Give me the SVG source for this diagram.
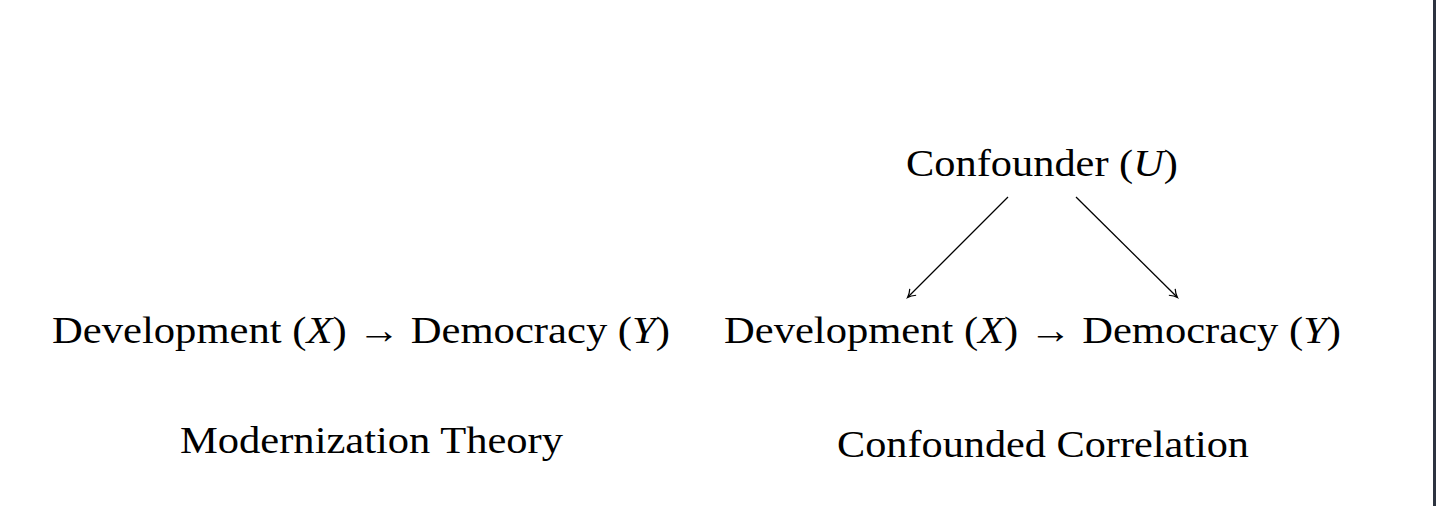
<svg xmlns="http://www.w3.org/2000/svg" width="1436" height="506" viewBox="0 0 1436 506">
<style>
.t{font-family:"Liberation Serif","DejaVu Serif",serif;font-size:38px;fill:#000}
.i{font-style:italic}
.e{stroke:#000;stroke-width:1.3;fill:none}
</style>
<defs>
<marker id="ah" markerWidth="12" markerHeight="12" refX="9" refY="6" orient="auto" markerUnits="userSpaceOnUse">
<path d="M2,1.5 Q6,5 9.5,6 Q6,7 2,10.5" fill="none" stroke="#000" stroke-width="1.2"/>
</marker>
</defs>
<rect width="1436" height="506" fill="#fff"/>
<rect x="1433" y="0" width="3" height="506" fill="#2d3340"/>
<g id="left-chain"><text class="t" x="52" y="343" textLength="618" lengthAdjust="spacingAndGlyphs">Development (<tspan class="i">X</tspan>) → Democracy (<tspan class="i">Y</tspan>)</text></g>
<g id="left-caption"><text class="t" x="180" y="453" textLength="383" lengthAdjust="spacingAndGlyphs">Modernization Theory</text></g>
<g id="confounder"><text class="t" x="906" y="176" textLength="272" lengthAdjust="spacingAndGlyphs">Confounder (<tspan class="i">U</tspan>)</text></g>
<g id="right-chain"><text class="t" x="724" y="343" textLength="617" lengthAdjust="spacingAndGlyphs">Development (<tspan class="i">X</tspan>) → Democracy (<tspan class="i">Y</tspan>)</text></g>
<g id="right-caption"><text class="t" x="837" y="457" textLength="412" lengthAdjust="spacingAndGlyphs">Confounded Correlation</text></g>
<g id="connectors">
<line class="e" x1="1008" y1="197" x2="908" y2="297" marker-end="url(#ah)"/>
<line class="e" x1="1076" y1="197" x2="1177" y2="297" marker-end="url(#ah)"/>
</g>
</svg>
